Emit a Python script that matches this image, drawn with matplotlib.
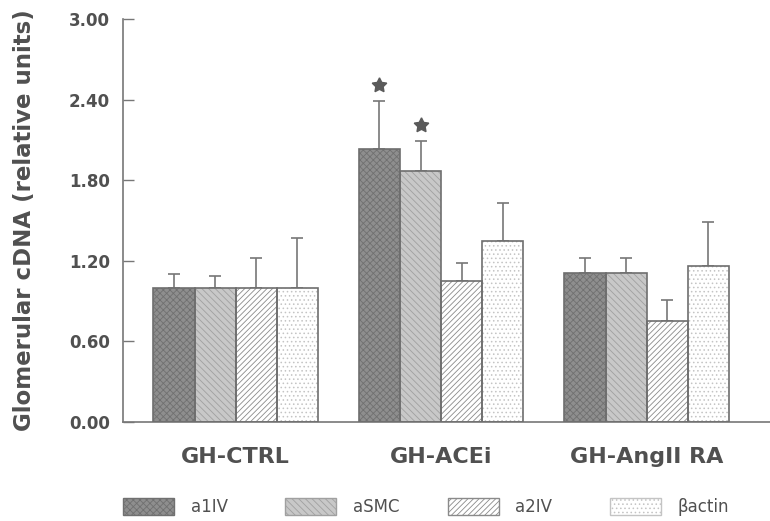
import numpy as np
import matplotlib.pyplot as plt
from matplotlib.patches import Patch

plt.rcParams['font.family'] = ['DejaVu Sans']
plt.rcParams['hatch.linewidth'] = 0.6

# ---------------------------------------------------------------------------
# Data
# ---------------------------------------------------------------------------
groups = ["GH-CTRL", "GH-ACEi", "GH-AngII RA"]
genes = ["a1IV", "aSMC", "a2IV", "\u03b2actin"]

a1IV = [1.00, 2.03, 1.11]
aSMC = [1.00, 1.87, 1.11]
a2IV = [1.00, 1.05, 0.75]
bactin = [1.00, 1.35, 1.16]

a1IV_err = [0.10, 0.36, 0.11]
aSMC_err = [0.09, 0.22, 0.11]
a2IV_err = [0.22, 0.13, 0.16]
bactin_err = [0.37, 0.28, 0.33]

# significance marks: (group index, gene index)
stars = [(1, 0), (1, 1)]

yticks = [0.00, 0.60, 1.20, 1.80, 2.40, 3.00]

# ---------------------------------------------------------------------------
values = [a1IV, aSMC, a2IV, bactin]
errors = [a1IV_err, aSMC_err, a2IV_err, bactin_err]
styles = [
    dict(facecolor="#8e8e8e", hatch="xxxxx"),
    dict(facecolor="#c8c8c8", hatch="\\\\\\\\\\"),
    dict(facecolor="white", hatch="//////"),
    dict(facecolor="white", hatch="...."),
]
hatch_edge = ["#707070", "#a0a0a0", "#8a8a8a", "#c4c4c4"]
edge = "#6e6e6e"
txt = "#505050"

fig = plt.figure(figsize=(7.70, 5.21), dpi=100)
ax = fig.add_axes([0.160, 0.190, 0.840, 0.7735])

x = np.arange(len(groups))
width = 0.2
handles = []
for i, (vals, errs) in enumerate(zip(values, errors)):
    pos = x + (i - 1.5) * width
    ax.bar(pos, vals, width, color=styles[i]["facecolor"],
           hatch=styles[i]["hatch"], edgecolor=hatch_edge[i],
           linewidth=0.0, zorder=2)
    # outline drawn separately so hatch colour and edge colour can differ
    ax.bar(pos, vals, width, facecolor="none", edgecolor=edge,
           linewidth=1.2, zorder=3)
    ax.errorbar(pos, vals, yerr=[np.zeros(len(vals)), errs], fmt="none",
                ecolor="#777777", elinewidth=1.2, capsize=4, capthick=1.2,
                zorder=1)
    handles.append(Patch(facecolor=styles[i]["facecolor"],
                         hatch=styles[i]["hatch"], edgecolor=hatch_edge[i],
                         linewidth=1.0))

for g, k in stars:
    top = values[k][g] + errors[k][g]
    ax.plot(x[g] + (k - 1.5) * width, top + 0.12, marker=(5, 1, 0),
            markersize=11, color="#5a5a5a", zorder=4)

ax.set_xlim(-0.547, 2.60)
ax.set_ylim(0, 3.0)
ax.set_yticks(yticks)
ax.set_yticklabels([f"{t:.2f}" for t in yticks], fontsize=12,
                   fontweight="bold", color=txt)
ax.tick_params(axis="y", direction="in", length=8, width=1.0,
               color="#777777", pad=9.5)
ax.set_xticks(x)
ax.set_xticklabels(groups, fontsize=16, fontweight="bold", color=txt)
ax.tick_params(axis="x", length=0, pad=18)
for s in ("top", "right"):
    ax.spines[s].set_visible(False)
for s in ("left", "bottom"):
    ax.spines[s].set_color("#777777")
    ax.spines[s].set_linewidth(1.2)

ax.set_ylabel("Glomerular cDNA (relative units)", fontsize=16.5,
              fontweight="bold", color=txt)
# right edge of the rotated label sits ~36 px from the figure's left edge
ax.yaxis.set_label_coords((36 - 123) / 646.8, 0.5)

# legend: one entry per slot, evenly spaced like the original
legend_x = [123, 285, 448, 610]
for h, lab, lx in zip(handles, genes, legend_x):
    fig.legend([h], [lab], loc="center left",
               bbox_to_anchor=(lx / 770, 1 - 507 / 521),
               frameon=False, fontsize=12, handlelength=3.05,
               handleheight=1.2, handletextpad=1.0, borderpad=0,
               borderaxespad=0, labelcolor=txt)

fig.savefig("out.png", dpi=100)
